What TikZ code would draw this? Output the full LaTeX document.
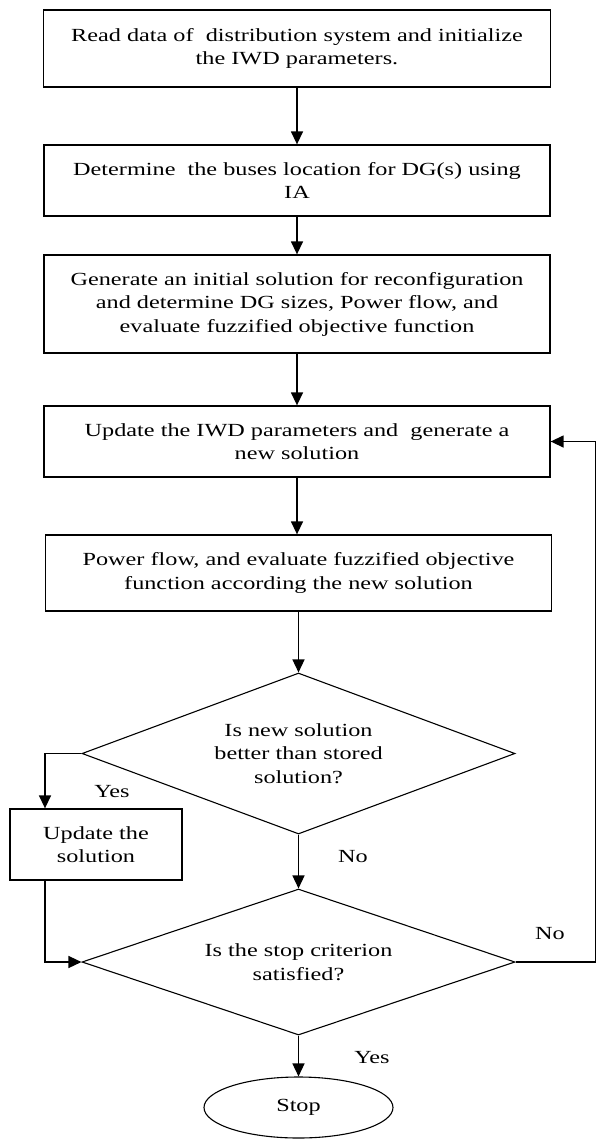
\documentclass[tikz,border=0pt]{standalone}
\usepackage{fontspec}
\setmainfont{Liberation Serif}[FakeStretch=1.31]
\usetikzlibrary{shapes.geometric,arrows.meta}
\begin{document}
\begin{tikzpicture}[x=1pt,y=-1pt,
  txt/.style={font=\fontsize{18.5}{23.5}\selectfont, align=center},
  box/.style={txt, draw, line width=1.3pt, inner sep=0pt},
  dec/.style={txt, draw, diamond, aspect=2.7, line width=1.1pt, inner sep=0pt},
  term/.style={txt, draw, ellipse, line width=1.1pt, inner sep=0pt},
  lbl/.style={txt},
  arr/.style={line width=1.4pt, -{Triangle[length=13pt,width=12pt]}},
  ln/.style={line width=1.4pt}]
\useasboundingbox (0,0) rectangle (595,1144);

\node[box, minimum width=507pt, minimum height=77pt] (b1) at (297,48.5)
  {Read data of~ distribution system and initialize\\the IWD parameters.};
\node[box, minimum width=506pt, minimum height=71pt] (b2) at (297,180.5)
  {Determine~ the buses location for DG(s) using\\IA};
\node[box, minimum width=506pt, minimum height=98pt] (b3) at (297,304)
  {Generate an initial solution for reconfiguration\\and determine DG sizes, Power flow, and\\evaluate fuzzified objective function};
\node[box, minimum width=506pt, minimum height=71pt] (b4) at (297,441.5)
  {Update the IWD parameters and~ generate a\\new solution};
\node[box, minimum width=506pt, minimum height=76pt] (b5) at (298.5,573)
  {Power flow, and evaluate fuzzified objective\\function according the new solution};
\node[dec, minimum width=433pt, minimum height=161pt] (d1) at (298.5,753.5)
  {Is new solution\\better than stored\\solution?};
\node[box, minimum width=172pt, minimum height=71pt] (upd) at (96,844.5)
  {Update the\\solution};
\node[dec, minimum width=433pt, minimum height=146pt] (d2) at (298.5,962)
  {Is the stop criterion\\satisfied?};
\node[term, minimum width=189pt, minimum height=61pt] (stop) at (298.5,1107.5) {Stop};

\node[lbl] (yes1) at (112,792) {Yes};
\node[lbl] (no1) at (353,857) {No};
\node[lbl] (no2) at (550,934) {No};
\node[lbl] (yes2) at (372,1058) {Yes};

\coordinate (yl) at (45,760);
\coordinate (rr) at (596,700);

\draw[arr] (b1.south) -- (b1.south |- b2.north);
\draw[arr] (b2.south) -- (b2.south |- b3.north);
\draw[arr] (b3.south) -- (b3.south |- b4.north);
\draw[arr] (b4.south) -- (b4.south |- b5.north);
\draw[arr] (b5.south) -- (d1.north);
\draw[arr] (d1.west) -| (yl |- upd.north);
\draw[arr] (yl |- upd.south) |- (d2.west);
\draw[arr] (d1.south) -- (d2.north);
\draw[arr] (d2.south) -- (stop.north);
\draw[arr] (d2.east) -| (rr |- b4.east) -- (b4.east);
\end{tikzpicture}
\end{document}
